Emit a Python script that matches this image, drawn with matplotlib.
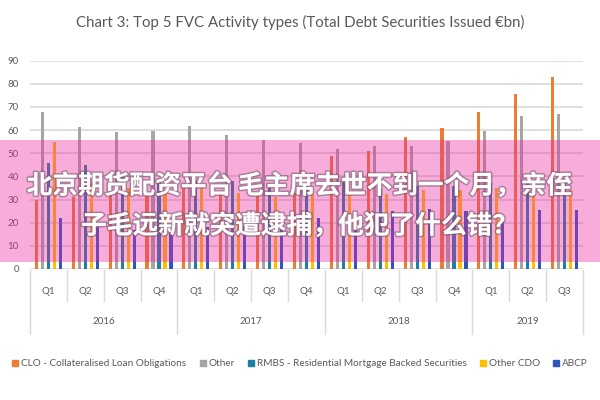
import matplotlib
matplotlib.use("Agg")
import matplotlib.pyplot as plt
import matplotlib.patches as mpatches
import matplotlib.patheffects as pe
from matplotlib.lines import Line2D
import numpy as np

quarters = ["Q1", "Q2", "Q3", "Q4", "Q1", "Q2", "Q3", "Q4",
            "Q1", "Q2", "Q3", "Q4", "Q1", "Q2", "Q3"]
years = ["2016", "2017", "2018", "2019"]
year_counts = [4, 4, 4, 3]

series_names = ["CLO - Collateralised Loan Obligations", "Other",
                "RMBS - Residential Mortgage Backed Securities", "Other CDO", "ABCP"]
clo = [30, 31, 32, 33, 35, 33, 33, 33, 49, 51, 57, 61, 68, 75.5, 83]
other = [68, 61.5, 59, 59.6, 62, 58, 55.7, 54.4, 52, 53, 53, 55.4, 59.6, 66, 67]
rmbs = [46, 45, 40, 38, 38, 38, 35, 36, 37.7, 34.5, 36, 36, 37, 38, 38]
other_cdo = [55, 37, 35, 34, 35.5, 33, 31, 32.4, 32, 32.3, 34, 34, 35, 35.5, 34]
abcp = [22, 18, 17, 17, 18, 18, 17, 22, 22, 25, 26, 25, 21, 25.5, 25.5]

colors = ["#ED7D31", "#A5A5A5", "#1F7FA3", "#FFC000", "#2F55C0"]
font = "Lato"
txtcol = "#595959"

fig = plt.figure(figsize=(6, 4), dpi=100)
fig.patch.set_facecolor("white")
ax = fig.add_axes([30/600, 1-269/400, 553/600, (269-60.7)/400])

n = len(quarters)
x = np.arange(n)
step = 0.163
width = 0.085
for k, vals in enumerate([clo, other, rmbs, other_cdo, abcp]):
    ax.bar(x + (k-2)*step, vals, width=width, color=colors[k], zorder=3)

ax.set_xlim(-0.5, n-0.5)
ax.set_ylim(0, 90)
ax.set_yticks(range(0, 91, 10))
ax.yaxis.grid(True, color="#D9D9D9", linewidth=1.2, zorder=0)
ax.set_axisbelow(True)
for s in ax.spines.values():
    s.set_visible(False)
ax.tick_params(axis="y", length=0, labelsize=7, labelcolor=txtcol, pad=8)
for lab in ax.get_yticklabels():
    lab.set_fontfamily(font)
ax.set_xticks([])

tr = ax.get_xaxis_transform()
h_ax = 269 - 60.7
def yf(py):
    return (269 - py) / h_ax

for i, q in enumerate(quarters):
    ax.text(i, yf(291), q, transform=tr, ha="center", va="center",
            fontsize=7, color=txtcol, family=font)
pos = 0
bounds = [-0.5]
for c in year_counts:
    pos += c
    bounds.append(pos - 0.5)
for i in range(n + 1):
    b = i - 0.5
    end = 334 if b in bounds else 301
    ax.add_line(Line2D([b, b], [yf(270), yf(end)], transform=tr,
                       color="#D9D9D9", linewidth=1, clip_on=False))
start = 0
for y, c in zip(years, year_counts):
    ax.text(start + (c-1)/2, yf(322), y, transform=tr, ha="center", va="center",
            fontsize=7, color=txtcol, family=font)
    start += c

fig.text(0.5, 1-22/400, "Chart 3: Top 5 FVC Activity types (Total Debt Securities Issued €bn)",
         ha="center", va="center", fontsize=10.8, color=txtcol, family=font)

handles = [mpatches.Patch(color=c, label=nm) for c, nm in zip(colors, series_names)]
leg = fig.legend(handles=handles, loc="center", bbox_to_anchor=(0.5, 1-364/400),
                 ncol=5, frameon=False, handlelength=0.6, handleheight=0.6,
                 handletextpad=0.3, columnspacing=1.3, prop={"family": font, "size": 7.2})
for t in leg.get_texts():
    t.set_color(txtcol)

# pink overlay banner on its own top axes
ov = fig.add_axes([0, 0, 1, 1], zorder=20)
ov.set_xlim(0, 600)
ov.set_ylim(400, 0)
ov.axis("off")
ov.patch.set_alpha(0)
ov.add_patch(mpatches.Rectangle((0, 140), 600, 122, facecolor="#EE269B",
                                alpha=0.38, edgecolor="none"))
cjk = ["Noto Sans CJK SC", "DejaVu Sans"]
effects = [pe.withStroke(linewidth=2.2, foreground=(0.45, 0.35, 0.42, 0.55))]
ov.text(300, 186, "北京期货配资平台 毛主席去世不到一个月，亲侄", ha="center", va="center",
        fontsize=18.5, color="white", fontweight="black", family=cjk, path_effects=effects)
ov.text(300, 226, "子毛远新就突遭逮捕，他犯了什么错？", ha="center", va="center",
        fontsize=18.5, color="white", fontweight="black", family=cjk, path_effects=effects)

fig.savefig("out.png", dpi=100)
